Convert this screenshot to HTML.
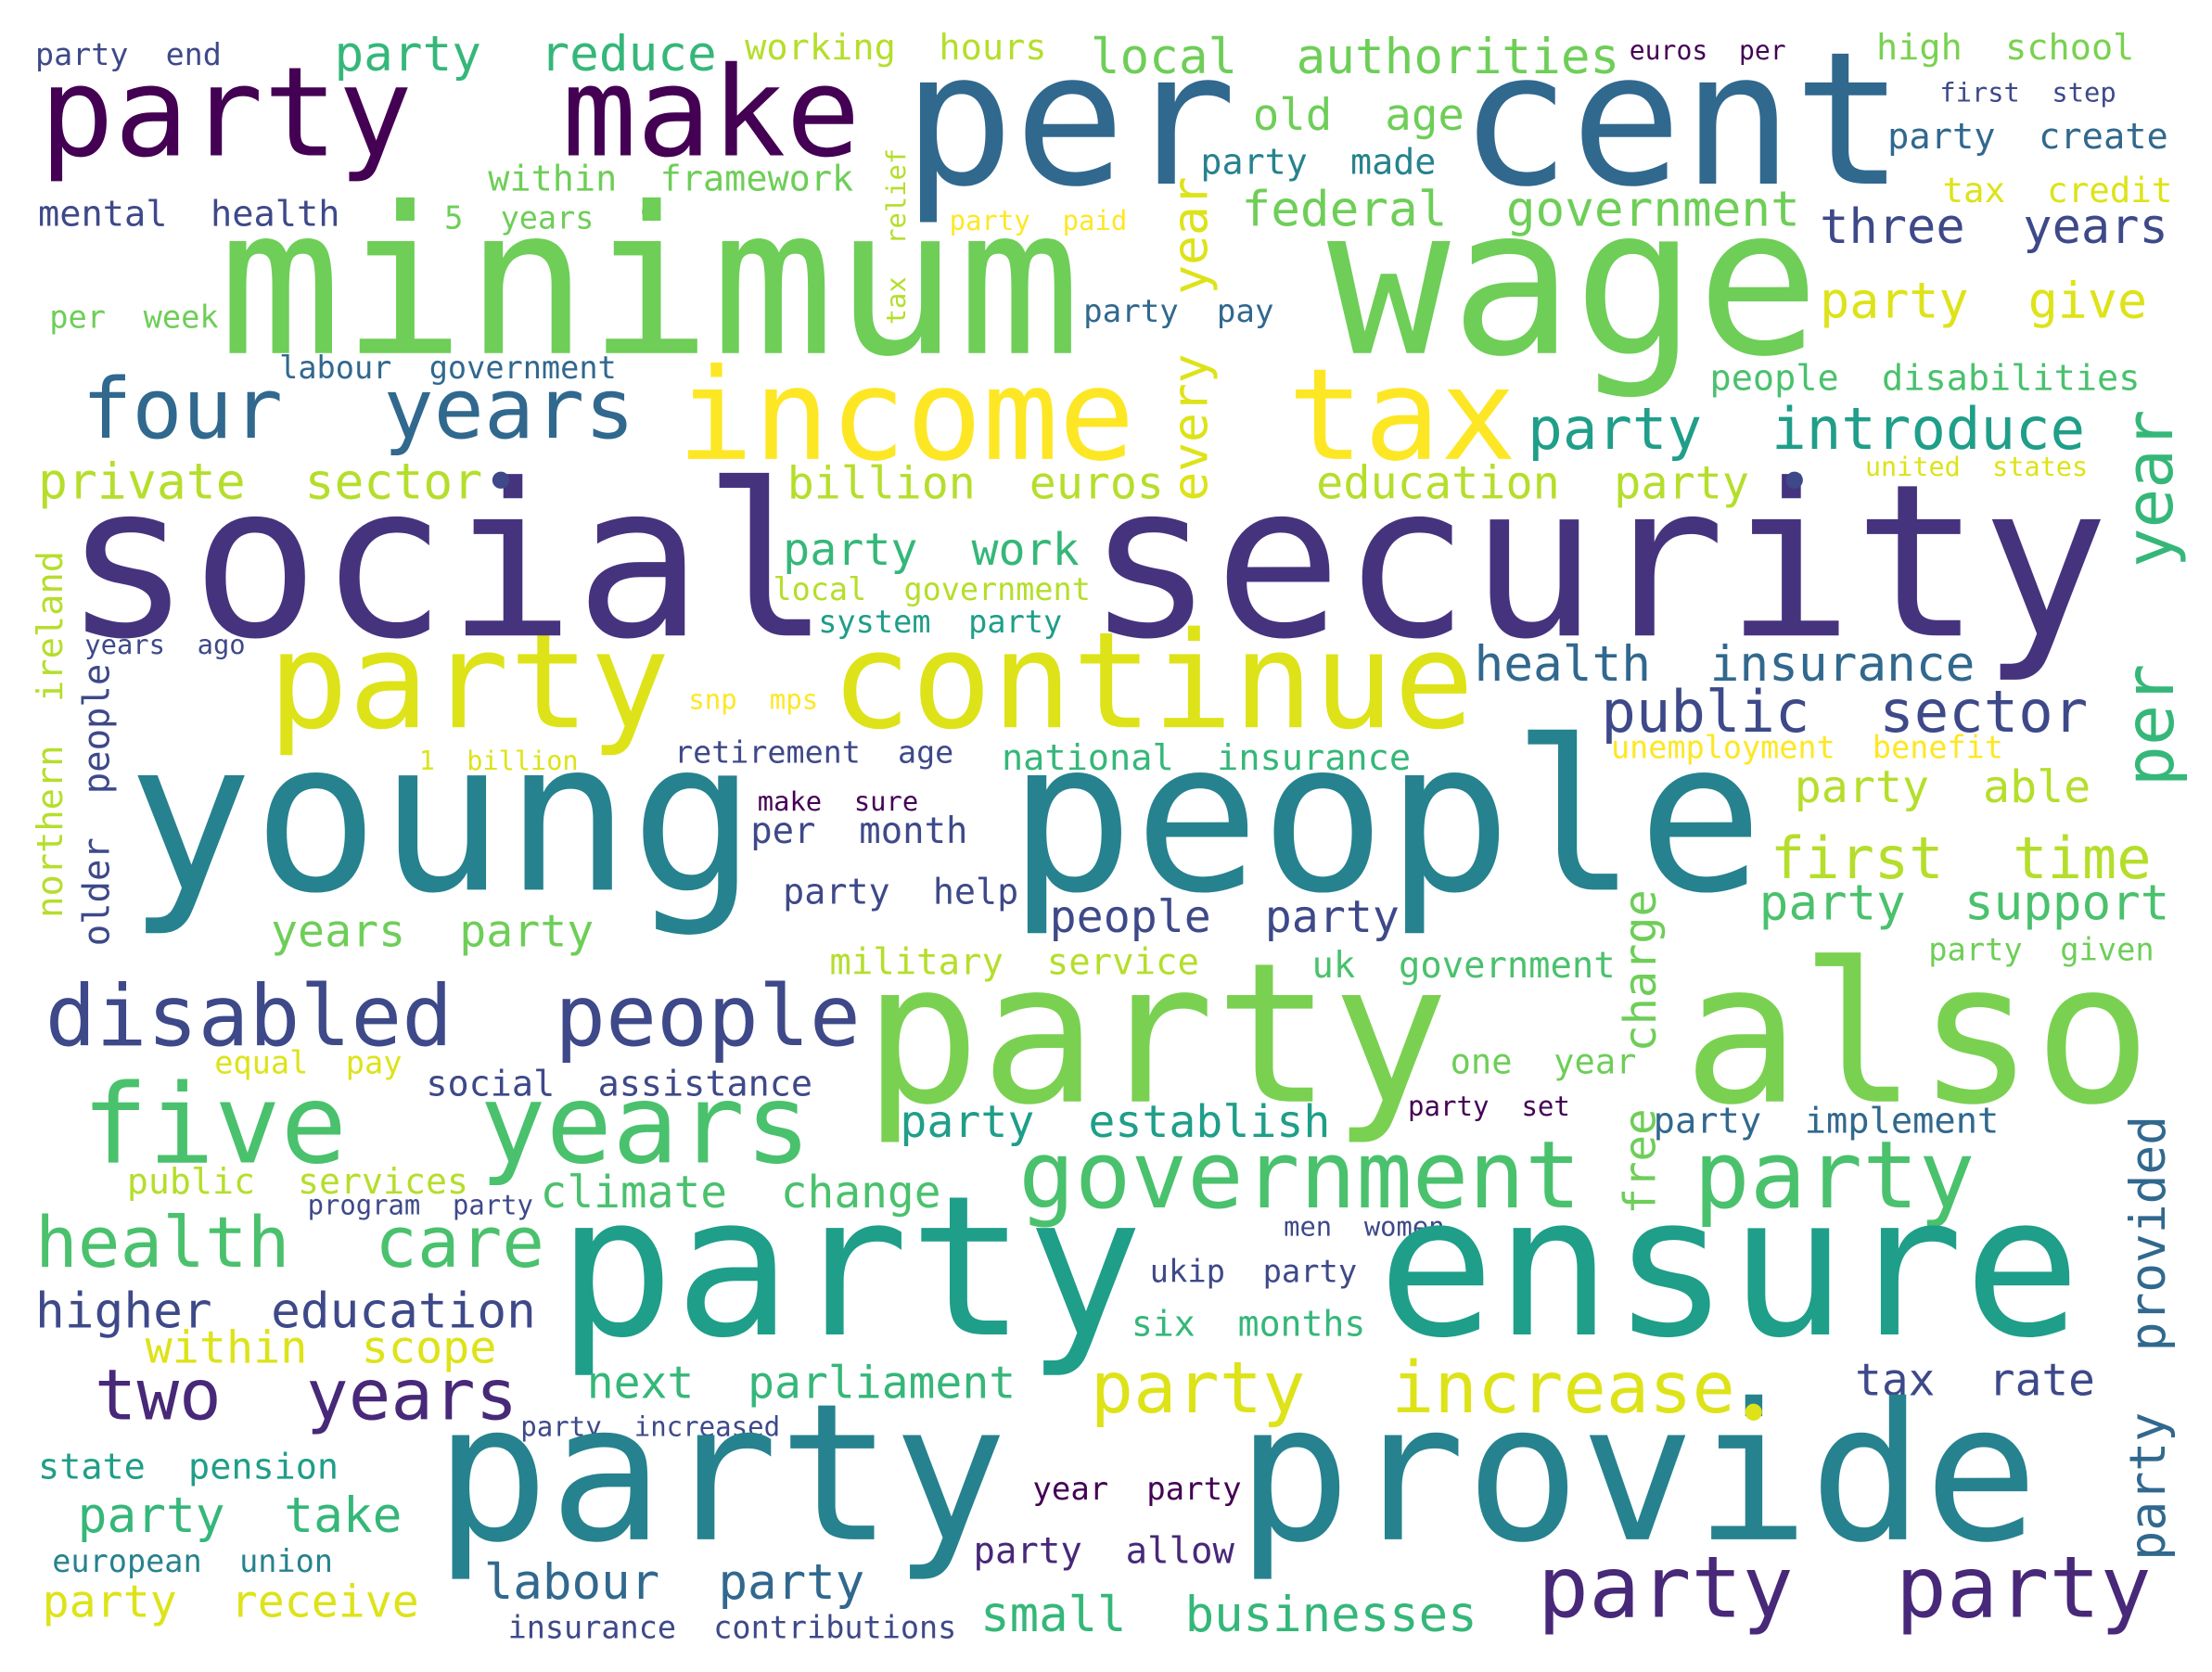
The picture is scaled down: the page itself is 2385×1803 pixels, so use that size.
<!DOCTYPE html>
<html>
<head>
<meta charset="utf-8">
<style>
html,body{margin:0;padding:0;background:#fff;}
svg{display:block;}
text{font-family:"DejaVu Sans Mono","Liberation Mono",monospace;}
</style>
</head>
<body>
<svg id="cloud" width="2385" height="1803" viewBox="0 0 1568 1184" preserveAspectRatio="none" xmlns="http://www.w3.org/2000/svg">
<rect width="1568" height="1184" fill="#ffffff"></rect>
</svg>
<script>
// horizontal phrases: text, x-start, x-end, baseline, colour
const hWords = ["party end","party make","party reduce","working hours","local authorities","euros per","high school","per cent","first step","party create","old age","party made","within framework","mental health","5 years","tax credit","three years","federal government","party paid","minimum wage","per week","party pay","party give","labour government","four years","income tax","people disabilities","party introduce","united states","private sector","billion euros","education party","party work","local government","system party","years ago","party continue","snp mps","health insurance","public sector","1 billion","retirement age","national insurance","unemployment benefit","young people","make sure","per month","party able","first time","party help","party support","people party","years party","military service","uk government","party given","disabled people","party also","equal pay","one year","social assistance","five years","party set","party establish","party implement","public services","program party","climate change","government party","health care","men women","party ensure","ukip party","higher education","six months","within scope","two years","next parliament","party increase","tax rate","party increased","state pension","party provide","year party","party take","european union","party allow","labour party","party party","party receive","insurance contributions","small businesses","social security"];
const hX1 = [25,28,237,528,773,1155,1330,640,1375,1338,888,851,346,27,315,1377,1290,880,673,155,35,768,1290,198,58,480,1212,1083,1322,27,558,933,555,548,580,60,190,488,1045,1135,297,478,710,1142,90,537,532,1272,1255,555,1247,744,192,588,930,1367,32,612,152,1028,302,58,998,638,1172,90,218,383,722,25,910,395,815,25,802,103,67,416,773,1315,369,27,308,732,55,37,690,343,1090,30,360,695,45];
const hX2 = [157,610,508,742,1148,1266,1513,1350,1500,1537,1038,1018,605,241,421,1540,1537,1276,799,1290,155,903,1522,437,450,1075,1517,1478,1480,342,825,1240,765,773,753,174,1045,580,1400,1480,410,676,1000,1420,1250,651,686,1482,1525,722,1538,992,421,850,1145,1527,610,1525,285,1160,576,575,1113,943,1417,332,378,667,1400,386,1024,1475,962,380,968,352,367,720,1230,1485,553,240,1445,880,285,236,875,613,1525,297,678,1047,1495];
const hBase = [46,110,50,42,52,42,42,130,72,105,92,123,135,160,162,143,172,160,163,250,232,228,225,268,310,325,276,318,337,353,353,353,400,425,448,463,515,502,482,518,545,540,545,537,630,574,597,568,622,640,651,660,670,690,692,680,740,780,760,760,776,823,790,805,802,845,860,855,855,897,875,945,908,940,946,965,1005,990,1000,988,1017,1047,1090,1062,1085,1113,1107,1132,1145,1145,1160,1155,450];
const hColor = ["#3e4989","#440154","#35b779","#b5de2b","#6ece58","#440154","#7ad151","#31688e","#3e4989","#31688e","#6ece58","#26828e","#6ece58","#3e4989","#6ece58","#dde318","#3e4989","#6ece58","#fde725","#6ece58","#6ece58","#31688e","#dde318","#31688e","#31688e","#fde725","#4ac16d","#1f9e89","#dde318","#b5de2b","#b5de2b","#b5de2b","#35b779","#b5de2b","#1f9e89","#3e4989","#dde318","#fde725","#31688e","#3e4989","#dde318","#3e4989","#35b779","#fde725","#26828e","#440154","#3e4989","#b5de2b","#b5de2b","#3e4989","#4ac16d","#3e4989","#6ece58","#b5de2b","#4ac16d","#6ece58","#3e4989","#7ad151","#dde318","#6ece58","#3e4989","#4ac16d","#440154","#1f9e89","#31688e","#b5de2b","#3e4989","#4ac16d","#4ac16d","#4ac16d","#3e4989","#1f9e89","#3e4989","#3e4989","#35b779","#dde318","#482878","#35b779","#dde318","#3e4989","#3e4989","#1f9e89","#26828e","#440154","#35b779","#26828e","#482878","#31688e","#482878","#dde318","#3e4989","#35b779","#46337e"];
// vertical phrases: text, centre x, bottom y, top y, colour
const vWords = ["tax relief","every year","year","northern ireland","older people","per","charge","free","provided","party"];
const vX = [635,843,1523,35,68,1523,1162,1162,1522,1522];
const vY1 = [230,355,402,650,670,557,745,860,957,1105];
const vY2 = [105,125,290,390,470,470,630,785,790,1000];
const vColor = ["#b5de2b","#dde318","#35b779","#b5de2b","#3e4989","#35b779","#6ece58","#6ece58","#31688e","#31688e"];
// stray period marks
const dotX = [287,461,355,1272,1243];
const dotY = [150,150,340,340,1000];

const svg = document.getElementById('cloud');
const NS = 'http://www.w3.org/2000/svg';

function layout(phrase, span) {
  const parts = phrase.split(' ');
  const units = phrase.length + parts.length - 1; // gaps count as 2 chars
  const cw = span / units;
  const out = [];
  let pos = 0;
  parts.forEach(p => { out.push({w: p, off: pos * cw, len: p.length * cw}); pos += p.length + 2; });
  return {cw, out};
}

hWords.forEach((w, i) => {
  const L = layout(w, hX2[i] - hX1[i]);
  const fs = L.cw / 0.602;
  L.out.forEach(part => {
    const t = document.createElementNS(NS, 'text');
    t.setAttribute('x', hX1[i] + part.off);
    t.setAttribute('y', hBase[i]);
    t.setAttribute('font-size', fs.toFixed(1));
    t.setAttribute('fill', hColor[i]);
    t.setAttribute('textLength', part.len.toFixed(1));
    t.setAttribute('lengthAdjust', 'spacingAndGlyphs');
    t.textContent = part.w;
    
    
    svg.appendChild(t);
  });
});

vWords.forEach((w, i) => {
  const L = layout(w, vY1[i] - vY2[i]);
  const fs = L.cw / 0.602;
  L.out.forEach(part => {
    const t = document.createElementNS(NS, 'text');
    t.setAttribute('x', part.off.toFixed(1));
    t.setAttribute('y', (fs * 0.36).toFixed(1));
    t.setAttribute('transform', 'translate(' + vX[i] + ',' + vY1[i] + ') rotate(-90)');
    t.setAttribute('font-size', fs.toFixed(1));
    t.setAttribute('fill', vColor[i]);
    t.setAttribute('textLength', part.len.toFixed(1));
    t.setAttribute('lengthAdjust', 'spacingAndGlyphs');
    t.textContent = part.w;
    
    
    svg.appendChild(t);
  });
});

dotX.forEach((x, i) => {
  const c = document.createElementNS(NS, 'circle');
  c.setAttribute('cx', x);
  c.setAttribute('cy', dotY[i]);
  c.setAttribute('r', 6);
  c.setAttribute('fill', i < 2 ? '#6ece58' : (i === 4 ? '#dde318' : '#3e4989'));
  
  
  svg.appendChild(c);
});
</script>
</body>
</html>
